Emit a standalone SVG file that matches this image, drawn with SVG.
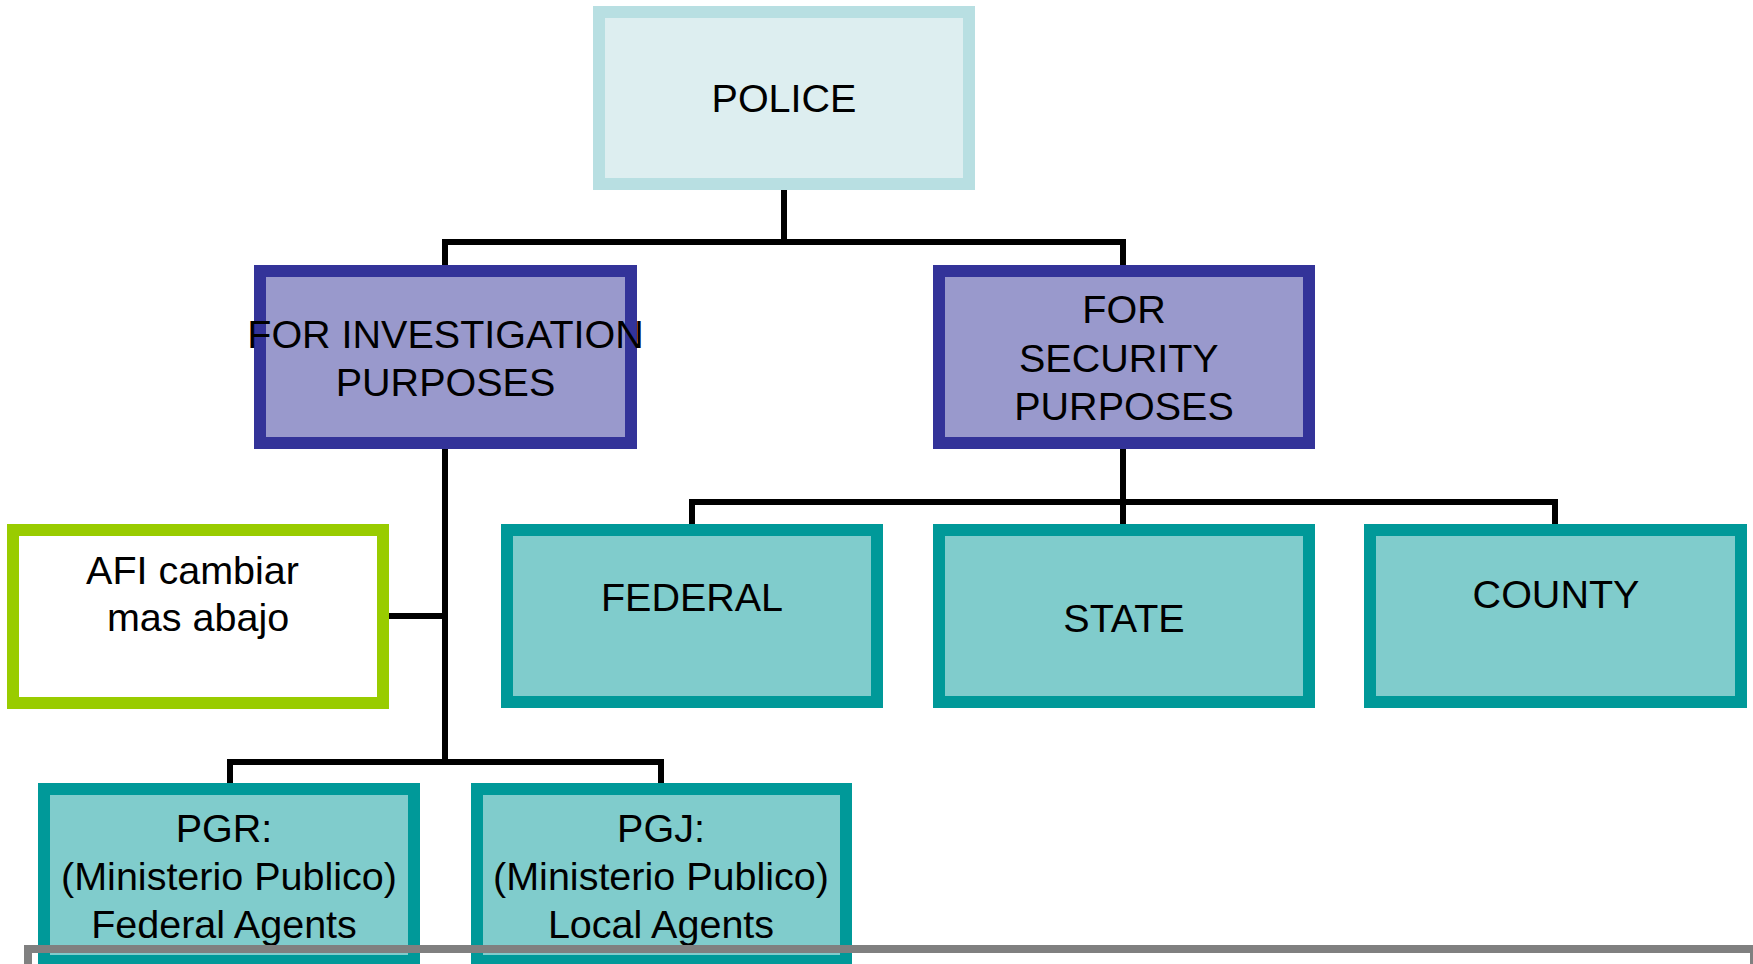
<svg xmlns="http://www.w3.org/2000/svg" width="1753" height="964" viewBox="0 0 1753 964">
<style>
text{font-family:"Liberation Sans",Arial,sans-serif;font-size:39.5px;fill:#000;text-anchor:middle}
.top{fill:#DDEEF0;stroke:#B8DFE2;stroke-width:12}
.mid{fill:#9999CC;stroke:#333399;stroke-width:12}
.teal{fill:#80CCCC;stroke:#009999;stroke-width:12}
.afi{fill:#FFFFFF;stroke:#99CC00;stroke-width:12}
.conn{fill:none;stroke:#000;stroke-width:6}
</style>
<rect x="0" y="0" width="1753" height="964" fill="#FFFFFF"/>
<g id="connectors">
<path class="conn" d="M784 190V242M445 268V242H1123V268"/>
<path class="conn" d="M1123 449V527M692 527V502H1555V527"/>
<path class="conn" d="M445 449V762M389 616H445M230 786V762H661V786"/>
</g>
<g id="police"><rect class="top" x="599" y="12" width="370" height="172"/><text x="784" y="112">POLICE</text></g>
<g id="investigation"><rect class="mid" x="260" y="271" width="371" height="172"/><text x="445.5" y="348">FOR INVESTIGATION</text><text x="445.5" y="396">PURPOSES</text></g>
<g id="security"><rect class="mid" x="939" y="271" width="370" height="172"/><text x="1124" y="323">FOR</text><text x="1124" y="372" xml:space="preserve">SECURITY </text><text x="1124" y="420">PURPOSES</text></g>
<g id="afi"><rect class="afi" x="13" y="530" width="370" height="173"/><text x="198" y="584" xml:space="preserve">AFI cambiar </text><text x="198" y="631">mas abajo</text></g>
<g id="federal"><rect class="teal" x="507" y="530" width="370" height="172"/><text x="692" y="611">FEDERAL</text></g>
<g id="state"><rect class="teal" x="939" y="530" width="370" height="172"/><text x="1124" y="632">STATE</text></g>
<g id="county"><rect class="teal" x="1370" y="530" width="371" height="172"/><text x="1556" y="608">COUNTY</text></g>
<g id="pgr"><rect class="teal" x="44" y="789" width="370" height="172"/><text x="224" y="842">PGR:</text><text x="229" y="890">(Ministerio Publico)</text><text x="224" y="938">Federal Agents</text></g>
<g id="pgj"><rect class="teal" x="477" y="789" width="369" height="172"/><text x="661" y="842">PGJ:</text><text x="661" y="890">(Ministerio Publico)</text><text x="661" y="938">Local Agents</text></g>
<rect x="28" y="949" width="1726" height="100" fill="none" stroke="#808080" stroke-width="8"/>
</svg>
